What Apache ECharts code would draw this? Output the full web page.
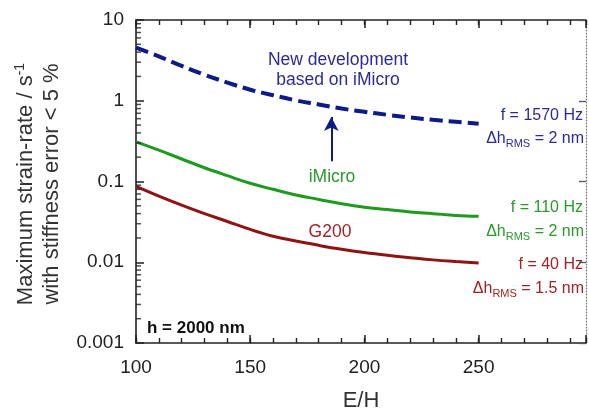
<!DOCTYPE html>
<html><head><meta charset="utf-8">
<script src="https://cdn.jsdelivr.net/npm/echarts@6/dist/echarts.min.js"></script>
<style>html,body{margin:0;padding:0;background:#fff}#c{width:589px;height:417px}</style>
</head><body><div id="c"></div>
<script>
// ---- data ----
const ehValues   = [100,110,120,130,140,150,160,170,180,190,200,210,220,230,240,250];
const newDevRate = [4.55,3.55,2.7,2.1,1.68,1.37,1.17,1.01,0.9,0.8,0.73,0.67,0.62,0.58,0.55,0.52];
const iMicroRate = [0.31,0.245,0.19,0.148,0.118,0.095,0.08,0.068,0.06,0.053,0.048,0.045,0.042,0.04,0.038,0.037];
const g200Rate   = [0.087,0.066,0.051,0.04,0.032,0.0255,0.021,0.0183,0.0162,0.0145,0.0132,0.0122,0.0114,0.0107,0.0102,0.0098];
const xTickLabels = [100,150,200,250];
const yTickLabels = ['0.001','0.01','0.1','1','10'];
const minorDecades = [0.001,0.01,0.1,1];
const minorMults = [2,3,4,5,6,7,8,9];
const arrowX = 185.5, arrowFrom = 0.178, arrowTo = 0.63;
const xMin = 100, xMax = 297, yMin = 0.001, yMax = 10;

const minorTicks = [];
minorDecades.forEach(d => minorMults.forEach(m => minorTicks.push(+(d*m).toPrecision(3))));

const FONT = 'Arial, "Liberation Sans", Helvetica, sans-serif';
const BLUE = '#0d1a8a', GREEN = '#1e9a1e', RED = '#8e1414';
const BLUE_T = '#2a2a9c', GREEN_T = '#2a9a2a', RED_T = '#a02424';
const AX = '#222';

const pair = (xs, ys) => xs.map((x, i) => [x, ys[i]]);

const chart = echarts.init(document.getElementById('c'), null, {renderer: 'canvas'});

function subText(x, y, main1, sub, main2, color) {
  return {
    type: 'text', x: x, y: y,
    style: {
      text: '{a|' + main1 + '}{s|' + sub + '}{a|' + main2 + '}',
      textAlign: 'right', textVerticalAlign: 'middle',
      rich: {
        a: {fontSize: 16, fontFamily: FONT, fill: color, color: color, lineHeight: 18, verticalAlign: 'top'},
        s: {fontSize: 11, fontFamily: FONT, fill: color, color: color, padding: [8, 0, 0, 0], verticalAlign: 'top'}
      }
    }
  };
}
function plainText(x, y, text, color, size, align, weight, rot) {
  const g = {
    type: 'text', x: x, y: y,
    style: {text: text, fill: color, font: (weight || 'normal') + ' ' + size + 'px ' + FONT,
            textAlign: align || 'center', textVerticalAlign: 'middle'}
  };
  if (rot) g.rotation = rot;
  return g;
}

const xBase = {
  type: 'value', min: xMin, max: xMax, gridIndex: 0, splitLine: {show: false}
};

chart.setOption({
  animation: false,
  backgroundColor: '#fff',
  grid: {left: 136, right: 1, top: 20, bottom: 70, containLabel: false},
  xAxis: [
    Object.assign({}, xBase, {
      position: 'bottom', interval: 50,
      axisLine: {show: true, lineStyle: {color: AX, width: 1.6}},
      axisTick: {show: true, inside: true, length: 8, lineStyle: {color: AX, width: 1.5}},
      axisLabel: {show: true, margin: 15, fontSize: 19, fontFamily: FONT, color: '#222',
        formatter: v => (xTickLabels.indexOf(Math.round(v)) >= 0 && Math.abs(v - Math.round(v)) < 1e-6) ? String(Math.round(v)) : ''},
      name: 'E/H', nameLocation: 'middle', nameGap: 47,
      nameTextStyle: {fontSize: 22, fontFamily: FONT, color: '#333'}
    }),
    Object.assign({}, xBase, {
      position: 'bottom', interval: 10,
      axisLine: {show: false},
      axisTick: {show: true, inside: true, length: 5, lineStyle: {color: AX, width: 1.4}},
      axisLabel: {show: false}
    }),
    Object.assign({}, xBase, {
      position: 'top', interval: 50,
      axisLine: {show: true, lineStyle: {color: AX, width: 1.6}},
      axisTick: {show: true, inside: true, length: 8, lineStyle: {color: AX, width: 1.5}},
      axisLabel: {show: false}
    }),
    Object.assign({}, xBase, {
      position: 'top', interval: 10,
      axisLine: {show: false},
      axisTick: {show: true, inside: true, length: 5, lineStyle: {color: AX, width: 1.4}},
      axisLabel: {show: false}
    })
  ],
  yAxis: [
    {
      type: 'log', logBase: 10, min: yMin, max: yMax, position: 'left',
      splitLine: {show: false},
      axisLine: {show: true, lineStyle: {color: AX, width: 1.6}},
      axisTick: {show: true, inside: true, length: 8, lineStyle: {color: AX, width: 1.5}},
      minorTick: {show: false},
      axisLabel: {show: true, margin: 12, fontSize: 19, fontFamily: FONT, color: '#222',
        formatter: v => {
          const s = String(parseFloat((+v).toPrecision(3)));
          return yTickLabels.indexOf(s) >= 0 ? s : '';
        }}
    },
    {
      type: 'log', logBase: 10, min: yMin, max: yMax, position: 'right',
      splitLine: {show: false},
      axisLine: {show: true, lineStyle: {color: '#777', width: 1.2, type: [1, 2]}},
      axisTick: {show: true, inside: true, length: 7, lineStyle: {color: '#555', width: 1.3}},
      axisLabel: {show: false}
    }
  ],
  graphic: [
    {
      type: 'text', x: 25, y: 184, rotation: Math.PI / 2,
      style: {
        text: '{m|Maximum strain-rate / s}{u|-1}',
        textAlign: 'center', textVerticalAlign: 'middle',
        rich: {
          m: {fontSize: 22, fontFamily: FONT, fill: '#333', color: '#333', lineHeight: 24, verticalAlign: 'bottom'},
          u: {fontSize: 14, fontFamily: FONT, fill: '#333', color: '#333', lineHeight: 14, padding: [0, 0, 10, 0], verticalAlign: 'bottom'}
        }
      }
    },
    plainText(52, 184, 'with stiffness error < 5 %', '#333', 22, 'center', 'normal', Math.PI / 2),
    plainText(338, 60, 'New development', BLUE_T, 17.5),
    plainText(338, 80, 'based on iMicro', BLUE_T, 17.5),
    plainText(332, 177, 'iMicro', GREEN_T, 17.5),
    plainText(330, 232, 'G200', RED_T, 17.5),
    plainText(147, 328, 'h = 2000 nm', '#111', 17, 'left', 'bold'),
    plainText(583, 116, 'f = 1570 Hz', BLUE_T, 16, 'right'),
    subText(584, 140, 'Δh', 'RMS', ' = 2 nm', BLUE_T),
    plainText(583, 208, 'f = 110 Hz', GREEN_T, 16, 'right'),
    subText(584, 233, 'Δh', 'RMS', ' = 2 nm', GREEN_T),
    plainText(583, 265, 'f = 40 Hz', RED_T, 16, 'right'),
    subText(584, 290, 'Δh', 'RMS', ' = 1.5 nm', RED_T)
  ],
  series: [
    {
      type: 'line', name: 'New development', xAxisIndex: 0, yAxisIndex: 0,
      data: pair(ehValues, newDevRate), smooth: 0.4, showSymbol: false, symbol: 'none',
      lineStyle: {color: BLUE, width: 4, type: [13, 6]},
      markLine: {
        silent: true, symbol: ['none', 'arrow'], symbolSize: [11, 14], precision: 4,
        label: {show: false},
        lineStyle: {color: BLUE, width: 2, type: 'solid'},
        data: [[{coord: [arrowX, arrowFrom]}, {coord: [arrowX, arrowTo]}]]
      }
    },
    {
      type: 'line', name: 'iMicro', xAxisIndex: 0, yAxisIndex: 0,
      data: pair(ehValues, iMicroRate), smooth: 0.4, showSymbol: false, symbol: 'none',
      lineStyle: {color: GREEN, width: 3}
    },
    {
      type: 'line', name: 'G200', xAxisIndex: 0, yAxisIndex: 0,
      data: pair(ehValues, g200Rate), smooth: 0.4, showSymbol: false, symbol: 'none',
      lineStyle: {color: RED, width: 3}
    },
    {
      type: 'scatter', name: 'minorTicks', xAxisIndex: 0, yAxisIndex: 0, silent: true,
      data: minorTicks.map(v => [xMin, v]),
      symbol: 'rect', symbolSize: [5, 1.5], symbolOffset: [2.5, 0],
      itemStyle: {color: AX}, clip: false, z: 5
    }
  ]
});
</script>
</body></html>
